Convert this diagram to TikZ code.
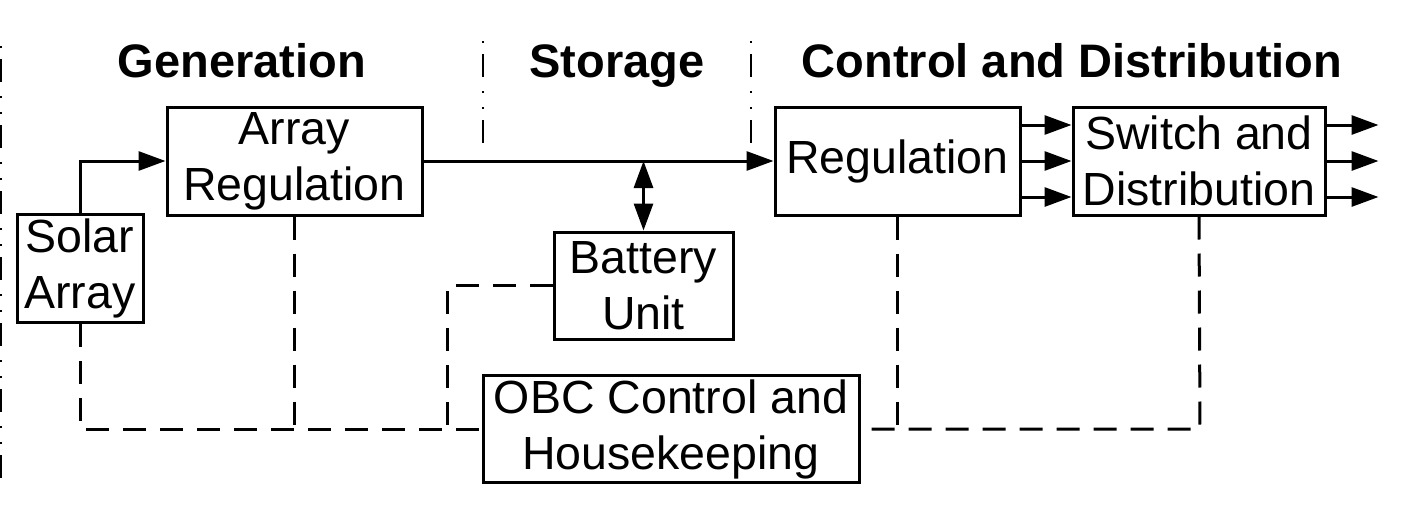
\documentclass[tikz,border=0pt]{standalone}
\usepackage{fontspec}
\setmainfont{Liberation Sans}
\usetikzlibrary{arrows.meta,calc}

\tikzset{
        blk/.style={draw,line width=3pt,align=center,inner sep=0pt,
                font=\fontsize{46.5}{56}\selectfont},
        head/.style={anchor=base,font=\bfseries\fontsize{47}{56}\selectfont},
        flow/.style={line width=3pt,-{Triangle[length=27pt,width=19pt]}},
        dflow/.style={line width=3pt,{Triangle[length=27pt,width=19pt]}-{Triangle[length=27pt,width=19pt]}},
        ctrl/.style={line width=3pt,dash pattern=on 23pt off 14pt},
        zone/.style={line width=2.5pt,dash pattern=on 23pt off 14pt on 1.5pt off 14.5pt on 1.5pt off 11.5pt,dash phase=52pt}
}

\begin{document}
\begin{tikzpicture}[x=1pt,y=-1pt]
        \useasboundingbox (0,0) rectangle (1418,506);
        \node[head] (gen) at (242,77) {Generation};
        \node[head] (sto) at (617,77) {Storage};
        \node[head] (cad) at (1072,77) {Control and Distribution};
        \draw[zone] (1,45) -- (1,483);
        \draw[zone] (483,40) -- (483,143);
        \draw[zone] (751,40) -- (751,143);
        \node[blk,minimum width=126pt,minimum height=108pt] (solar) at (80,268.5) {Solar\\Array};
        \node[blk,minimum width=255pt,minimum height=108pt] (arrreg) at (294.5,161) {Array\\Regulation};
        \node[blk,minimum width=245pt,minimum height=108pt] (reg) at (897.5,161) {Regulation};
        \node[blk,minimum width=252pt,minimum height=108pt] (switch) at (1199,161) {Switch and\\Distribution};
        \node[blk,minimum width=179pt,minimum height=107pt] (bat) at (643.5,285.5) {Battery\\Unit};
        \node[blk,minimum width=376pt,minimum height=107pt] (obc) at (671,429) {OBC Control and\\Housekeeping};
        \coordinate (busL) at (80,429);
        \coordinate (busR) at (1200,429);
        \coordinate (batc) at (447,429);
        \draw[flow] (solar.north) |- (arrreg.west);
        \draw[flow] (arrreg.east) -- (reg.west);
        \draw[dflow] (bat.north) -- (bat.north |- arrreg.east);
        \foreach \d/\n in {36/a,0/b,-36/c} {
                \draw[flow] ([yshift=\d pt]reg.east) -- ([yshift=\d pt]switch.west);
                \coordinate (out\n) at ([xshift=52pt,yshift=\d pt]switch.east);
                \draw[flow] ([yshift=\d pt]switch.east) -- (out\n);
        }
        \draw[ctrl] (solar.south) -- (busL) -- (obc.west);
        \draw[ctrl] (switch.south) -- (busR) -- (obc.east);
        \draw[ctrl] (arrreg.south) -- (arrreg.south |- busL);
        \draw[ctrl] (reg.south) -- (reg.south |- busR);
        \draw[ctrl] (bat.west) -| (batc);
\end{tikzpicture}
\end{document}
